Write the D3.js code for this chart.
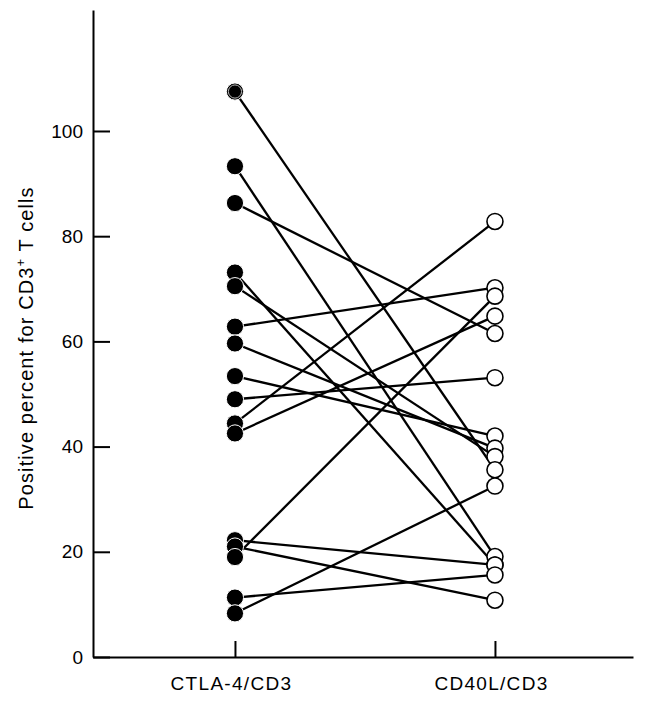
<!DOCTYPE html>
<html>
<head>
<meta charset="utf-8">
<script src="https://cdn.jsdelivr.net/npm/d3@7"></script>
<style>
  html, body { margin: 0; padding: 0; background: #fff; }
  svg { display: block; }
  text { font-family: "Liberation Sans", Arial, sans-serif; fill: #000; }
</style>
</head>
<body>
<svg id="chart" width="651" height="708"></svg>
<script>
// ---- data ----
const categories = ["CTLA-4/CD3", "CD40L/CD3"];
const ctla4 = [107.5, 93.3, 86.3, 73.1, 70.5, 62.8, 59.6, 53.4, 49.0, 44.4, 42.5, 22.2, 21.0, 19.0, 11.3, 8.3];
const cd40l = [35.6, 19.1, 61.5, 17.5, 38.1, 70.2, 39.7, 42.0, 53.1, 82.8, 64.8, 17.5, 10.8, 68.6, 15.6, 32.5];
const yTicks = [0, 20, 40, 60, 80, 100];
const yTitle = "Positive percent for CD3";

// ---- layout ----
const svg = d3.select("#chart");
const x = d3.scalePoint().domain(categories).range([93, 633]).padding(0.5385).align(0.507);
const y = d3.scaleLinear().domain([0, 123]).range([657, 10]);

const pairs = ctla4.map((v, i) => ({ a: v, b: cd40l[i], i }));

// axes
const yAxis = d3.axisLeft(y).tickValues(yTicks).tickSizeInner(-17).tickSizeOuter(0).tickPadding(10);
const gy = svg.append("g").attr("transform", "translate(93,0)").call(yAxis);
gy.selectAll("path, line").attr("stroke", "#000").attr("stroke-width", 2);
gy.selectAll("text").attr("font-size", 19).attr("fill", "#000");

const xAxis = d3.axisBottom(x).tickSizeInner(-16).tickSizeOuter(0).tickPadding(20);
const gx = svg.append("g").attr("transform", "translate(0,657)").call(xAxis);
gx.selectAll("path, line").attr("stroke", "#000").attr("stroke-width", 2);
gx.selectAll("text").attr("font-size", 19).attr("letter-spacing", "1.3px").attr("dx", "-4").attr("fill", "#000");

// y title
const t = svg.append("text")
  .attr("transform", "translate(33,348) rotate(-90)")
  .attr("text-anchor", "middle")
  .attr("font-size", 20)
  .attr("letter-spacing", "1.1px");
t.append("tspan").text(yTitle);
t.append("tspan").attr("font-size", 13).attr("dy", -8).text("+");
t.append("tspan").attr("dy", 8).text(" T cells");

// connecting lines
svg.append("g").selectAll("line").data(pairs).join("line")
  .attr("x1", x(categories[0])).attr("y1", d => y(d.a))
  .attr("x2", x(categories[1])).attr("y2", d => y(d.b))
  .attr("stroke", "#000").attr("stroke-width", 2.3);

// left filled points (lower drawn last)
const leftSorted = pairs.slice().sort((p, q) => q.a - p.a);
svg.append("g").selectAll("circle").data(leftSorted).join("circle")
  .attr("cx", x(categories[0])).attr("cy", d => y(d.a)).attr("r", 8.6)
  .attr("fill", "#000").attr("stroke", "#fff").attr("stroke-width", 1);
// ring on the top point
const topPt = leftSorted[0];
svg.append("circle").attr("cx", x(categories[0])).attr("cy", y(topPt.a)).attr("r", 6.6)
  .attr("fill", "none").attr("stroke", "#ccc").attr("stroke-width", 0.9);

// right open points
const rightSorted = pairs.slice().sort((p, q) => q.b - p.b);
svg.append("g").selectAll("circle").data(rightSorted).join("circle")
  .attr("cx", x(categories[1])).attr("cy", d => y(d.b)).attr("r", 8)
  .attr("fill", "#fff").attr("stroke", "#000").attr("stroke-width", 1.6);
</script>
</body>
</html>
